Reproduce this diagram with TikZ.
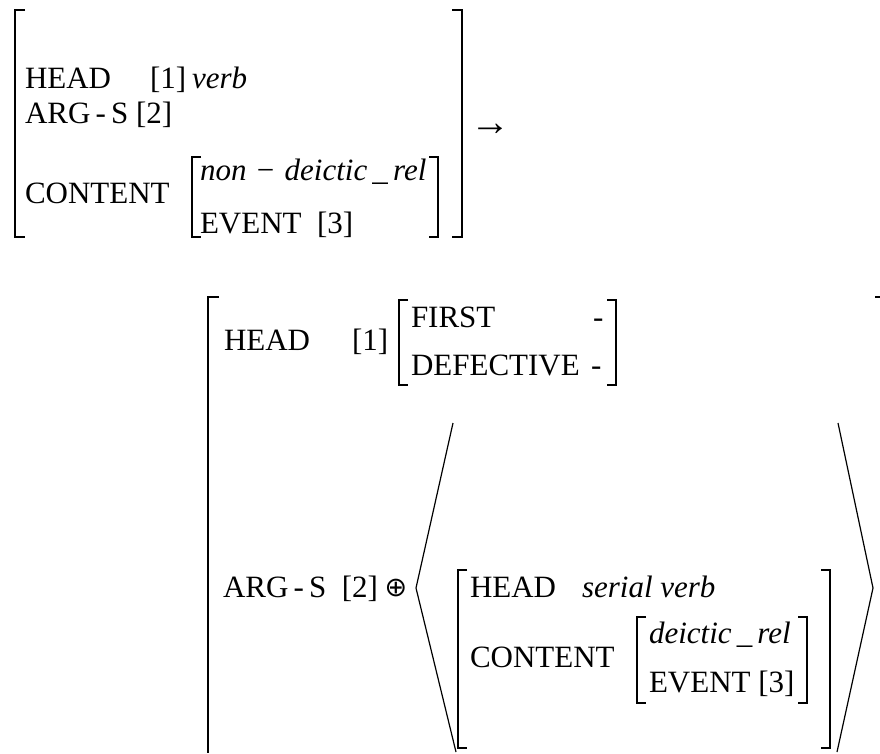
\documentclass[tikz,border=0pt]{standalone}
\usepackage{graphicx}
\usepackage{fontspec}
\setmainfont{Liberation Serif}
\newfontfamily\symfont{DejaVu Sans}
\tikzset{
  txt/.style={anchor=base west, inner sep=0pt, outer sep=0pt, font=\fontsize{31}{31}\selectfont},
  brk/.style={line width=1.5pt, line cap=butt, line join=miter},
  bigbrk/.style={line width=2pt, line cap=butt, line join=miter},
  ang/.style={line width=1.2pt, line join=miter}
}
\begin{document}
\begin{tikzpicture}[x=1pt,y=-1pt]
\useasboundingbox (0,0) rectangle (880,753);
% ---------- first AVM ----------
\draw[brk] (25,10) -- (15,10) -- (15,237) -- (25,237);
\draw[brk] (452,10) -- (462,10) -- (462,237) -- (452,237);
\node[txt] (h1) at (25,88) {HEAD};
\node[txt] (i1) at (150,88) {[1]};
\node[txt] (v1) at (192,88) {\itshape verb};
\node[txt] (a1) at (25,123) {ARG\,-\,S [2]};
\node[txt] (c1) at (25,203) {CONTENT};
\draw[brk] (201,157) -- (192,157) -- (192,237) -- (201,237);
\draw[brk] (429,157) -- (438,157) -- (438,237) -- (429,237);
\node[txt] (n1) at (200,180) {\itshape non\,\,\textup{−}\,\,deictic\,\_\,rel};
\node[txt] (e1) at (200,233) {EVENT\ \ [3]};
\node[anchor=center, inner sep=0pt, font=\fontsize{40}{40}\selectfont] (arr) at (490,130) {→};
% ---------- second AVM ----------
\draw[bigbrk] (219,297) -- (208,297) -- (208,753);
\draw[bigbrk] (875,297) -- (880,297);
\node[txt] (h2) at (224,350) {HEAD};
\node[txt] (i2) at (352,350) {[1]};
\draw[brk] (408,300) -- (399,300) -- (399,385) -- (408,385);
\draw[brk] (607,300) -- (616,300) -- (616,385) -- (607,385);
\node[txt] (f2) at (411,327) {FIRST};
\node[txt] (m2) at (593,327) {-};
\node[txt] (d2) at (411,375) {DEFECTIVE};
\node[txt] (m3) at (591,375) {-};
% angle brackets
\coordinate (la1) at (453,423); \coordinate (la2) at (416,588); \coordinate (la3) at (456,752);
\coordinate (ra1) at (838,423); \coordinate (ra2) at (873,588); \coordinate (ra3) at (837,752);
\draw[ang] (la1) -- (la2) -- (la3);
\draw[ang] (ra1) -- (ra2) -- (ra3);
\node[txt] (a2) at (223,597) {ARG\,-\,S\ \ [2]};
\node[anchor=center, inner sep=0pt, font=\fontsize{27}{27}\selectfont] (op) at (396,588) {\symfont ⊕};
% inner AVM
\draw[brk] (467,570) -- (458,570) -- (458,748) -- (467,748);
\draw[brk] (821,570) -- (830,570) -- (830,748) -- (821,748);
\node[txt] (h3) at (470,597) {HEAD};
\node[txt] (s3) at (582,597) {\itshape serial verb};
\node[txt] (c3) at (470,667) {CONTENT};
\draw[brk] (646,617) -- (637,617) -- (637,703) -- (646,703);
\draw[brk] (798,617) -- (807,617) -- (807,703) -- (798,703);
\node[txt] (r3) at (649,643) {\itshape deictic\,\_\,rel};
\node[txt] (e3) at (649,692) {EVENT [3]};
\end{tikzpicture}
\end{document}
